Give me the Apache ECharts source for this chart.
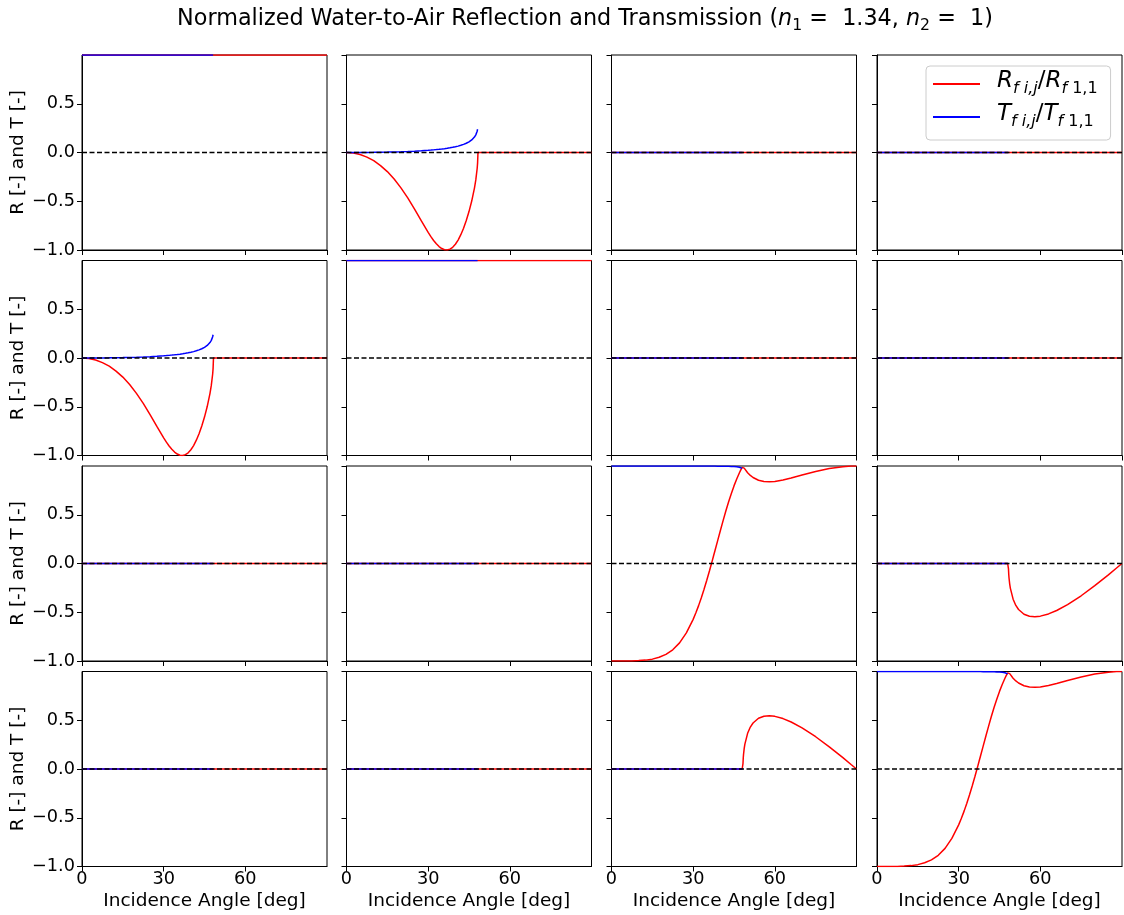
<!DOCTYPE html>
<html>
<head>
<meta charset="utf-8">
<script src="https://cdn.jsdelivr.net/npm/echarts@6/dist/echarts.min.js"></script>
<style>
  html, body { margin: 0; padding: 0; background: #ffffff; }
  #chart { width: 1124px; height: 915px; }
</style>
</head>
<body>
<div id="chart"></div>
<script>
// Incidence angles [deg] for the reflection curves (0 .. 90)
const angleR = [0, 2.5, 5, 7.5, 10, 12.5, 15, 17.5, 20, 22.5, 25, 27.5, 30, 31, 32, 33, 34, 35, 36, 36.73,
  37, 37.5, 38, 39, 40, 41, 42, 43, 44, 45, 46, 47, 47.5, 48, 48.15,
  48.3, 48.4, 48.5, 48.75, 49, 50, 51, 52, 54, 56, 58, 60, 63, 66, 70, 75, 80, 85, 88, 90];
// Transmission exists only below the critical angle
const angleT = [0, 2.5, 5, 7.5, 10, 12.5, 15, 17.5, 20, 22.5, 25, 27.5, 30, 31, 32, 33, 34, 35, 36, 36.73,
  37, 37.5, 38, 39, 40, 41, 42, 43, 44, 45, 46, 47, 47.5, 48, 48.15];

// Normalised reflection elements
const refl12 = [0, -0.005, -0.021, -0.047, -0.084, -0.134, -0.196, -0.272, -0.363, -0.466, -0.581, -0.702,
  -0.820, -0.863, -0.902, -0.936, -0.965, -0.985, -0.997, -1.000,
  -1.000, -0.997, -0.991, -0.972, -0.941, -0.898, -0.843, -0.777, -0.698, -0.606, -0.498, -0.365, -0.281,
  -0.164, -0.109,
  0, 0, 0, 0, 0, 0, 0, 0, 0, 0, 0, 0, 0, 0, 0, 0, 0, 0, 0, 0];
const refl33 = [-1.000, -1.000, -1.000, -0.999, -0.996, -0.991, -0.981, -0.962, -0.932, -0.885, -0.814, -0.712,
  -0.573, -0.506, -0.432, -0.351, -0.264, -0.171, -0.074, 0.000,
  0.027, 0.079, 0.131, 0.235, 0.339, 0.440, 0.538, 0.630, 0.716, 0.796, 0.867, 0.931, 0.960, 0.986, 0.994,
  0.998, 0.994, 0.989, 0.978, 0.967, 0.931, 0.903, 0.882, 0.854, 0.841, 0.838, 0.842, 0.856, 0.876,
  0.907, 0.944, 0.974, 0.993, 0.999, 1.000];
const refl34 = [0, 0, 0, 0, 0, 0, 0, 0, 0, 0, 0, 0, 0, 0, 0, 0, 0, 0, 0, 0,
  0, 0, 0, 0, 0, 0, 0, 0, 0, 0, 0, 0, 0, 0, 0,
  -0.056, -0.113, -0.149, -0.211, -0.255, -0.366, -0.430, -0.472, -0.520, -0.541, -0.546, -0.540,
  -0.517, -0.482, -0.422, -0.331, -0.227, -0.116, -0.046, 0];
const refl43 = [0, 0, 0, 0, 0, 0, 0, 0, 0, 0, 0, 0, 0, 0, 0, 0, 0, 0, 0, 0,
  0, 0, 0, 0, 0, 0, 0, 0, 0, 0, 0, 0, 0, 0, 0,
  0.056, 0.113, 0.149, 0.211, 0.255, 0.366, 0.430, 0.472, 0.520, 0.541, 0.546, 0.540,
  0.517, 0.482, 0.422, 0.331, 0.227, 0.116, 0.046, 0];

// Normalised transmission elements
const trans12 = [0, 0.0001, 0.0004, 0.001, 0.0018, 0.0029, 0.0043, 0.006, 0.0081, 0.0107, 0.0138, 0.0176,
  0.0223, 0.0245, 0.0269, 0.0296, 0.0325, 0.0357, 0.0393, 0.0424,
  0.0433, 0.0455, 0.0478, 0.0529, 0.0588, 0.0656, 0.0735, 0.0830, 0.0946, 0.1093, 0.1290, 0.1583, 0.1808,
  0.2181, 0.2387];
const trans33 = [1, 1, 1, 1, 1, 1, 1, 1, 1, 0.9999, 0.9999, 0.9998, 0.9998, 0.9997, 0.9996, 0.9996, 0.9995,
  0.9994, 0.9992, 0.9991,
  0.9991, 0.9990, 0.9989, 0.9986, 0.9983, 0.9979, 0.9973, 0.9966, 0.9955, 0.9940, 0.9916, 0.9874, 0.9835,
  0.9759, 0.9711];

// Constant elements (diagonal 1,1 / 2,2 and the vanishing ones)
const flatAngleR = [0, 90];
const flatAngleT = [0, 48.15];
const unitR = [1, 1];
const unitT = [1, 1];
const zeroR = [0, 0];
const zeroT = [0, 0];

// Dashed zero reference
const baseAngle = [0, 90];
const baseValue = [0, 0];

// Axis ticks
const xTicks = [0, 30, 60, 90];
const yTicks = [-1, -0.5, 0, 0.5, 1];

const curves = {
  unit: { R: [flatAngleR, unitR], T: [flatAngleT, unitT] },
  zero: { R: [flatAngleR, zeroR], T: [flatAngleT, zeroT] },
  m12:  { R: [angleR, refl12], T: [angleT, trans12] },
  m33:  { R: [angleR, refl33], T: [angleT, trans33] },
  m34:  { R: [angleR, refl34], T: [flatAngleT, zeroT] },
  m43:  { R: [angleR, refl43], T: [flatAngleT, zeroT] }
};
const matrixLayout = [
  ['unit', 'm12', 'zero', 'zero'],
  ['m12', 'unit', 'zero', 'zero'],
  ['zero', 'zero', 'm33', 'm34'],
  ['zero', 'zero', 'm43', 'm33']
];

const FONT = 'DejaVu Sans';
const colLeft = [82, 346.5, 611.5, 877];
const rowTop = [55, 260.5, 466, 671.5];
const cellW = 245, cellH = 195;

const pairs = (xs, ys) => xs.map((x, i) => [x, ys[i]]);

const grids = [], xAxes = [], yAxes = [], series = [];
for (let r = 0; r < 4; r++) {
  for (let c = 0; c < 4; c++) {
    const idx = r * 4 + c;
    grids.push({
      left: colLeft[c], top: rowTop[r], width: cellW, height: cellH,
      show: true, borderColor: '#000', borderWidth: 1, backgroundColor: 'transparent',
      containLabel: false, outerBoundsMode: 'none'
    });
    xAxes.push({
      gridIndex: idx, type: 'value', min: xTicks[0], max: xTicks[xTicks.length - 1],
      interval: xTicks[1] - xTicks[0],
      axisLine: { show: true, onZero: false, lineStyle: { color: '#000', width: 1 } },
      axisTick: { show: true, inside: false, length: 5, lineStyle: { color: '#000', width: 1 } },
      splitLine: { show: false },
      axisLabel: {
        show: r === 3, margin: 4, color: '#000', fontFamily: FONT, fontSize: 17.7,
        showMaxLabel: false,
        formatter: v => (v >= 90 ? '' : String(v))
      },
      name: r === 3 ? 'Incidence Angle [deg]' : '',
      nameLocation: 'middle', nameGap: 25,
      nameTextStyle: { color: '#000', fontFamily: FONT, fontSize: 18.5 }
    });
    yAxes.push({
      gridIndex: idx, type: 'value', min: yTicks[0], max: yTicks[yTicks.length - 1],
      interval: yTicks[1] - yTicks[0],
      axisLine: { show: true, onZero: false, lineStyle: { color: '#000', width: 1 } },
      axisTick: { show: true, inside: false, length: 5, lineStyle: { color: '#000', width: 1 } },
      splitLine: { show: false },
      axisLabel: {
        show: c === 0, margin: 7, color: '#000', fontFamily: FONT, fontSize: 17.7,
        showMaxLabel: false,
        formatter: v => (v >= 1 ? '' : (v < 0 ? '\u2212' : '') + Math.abs(v).toFixed(1))
      },
      name: c === 0 ? 'R [-] and T [-]' : '',
      nameLocation: 'middle', nameGap: 51,
      nameTextStyle: { color: '#000', fontFamily: FONT, fontSize: 18.5 }
    });
    const cv = curves[matrixLayout[r][c]];
    series.push({
      type: 'line', name: 'R', xAxisIndex: idx, yAxisIndex: idx,
      data: pairs(cv.R[0], cv.R[1]), symbol: 'none', showSymbol: false,
      lineStyle: { color: '#ff0000', width: 1.5 }, itemStyle: { color: '#ff0000' },
      z: 2, animation: false, silent: true
    });
    series.push({
      type: 'line', name: 'T', xAxisIndex: idx, yAxisIndex: idx,
      data: pairs(cv.T[0], cv.T[1]), symbol: 'none', showSymbol: false,
      lineStyle: { color: '#0000ff', width: 1.5 }, itemStyle: { color: '#0000ff' },
      z: 3, animation: false, silent: true
    });
    series.push({
      type: 'line', name: 'zero', xAxisIndex: idx, yAxisIndex: idx,
      data: pairs(baseAngle, baseValue), symbol: 'none', showSymbol: false,
      lineStyle: { color: '#000', width: 1.3, type: [5, 2.5] }, itemStyle: { color: '#000' },
      z: 4, animation: false, silent: true
    });
  }
}

const legendRich = {
  sp: { width: 12, fontSize: 23 },
  m: { fontFamily: FONT, fontSize: 23, fontStyle: 'italic', lineHeight: 28, verticalAlign: 'top', color: '#000' },
  n: { fontFamily: FONT, fontSize: 23, lineHeight: 28, verticalAlign: 'top', color: '#000' },
  si: { fontFamily: FONT, fontSize: 16, fontStyle: 'italic', lineHeight: 18, padding: [11, 0, 0, 0], verticalAlign: 'top', color: '#000' },
  su: { fontFamily: FONT, fontSize: 16, lineHeight: 18, padding: [11, 0, 0, 0], verticalAlign: 'top', color: '#000' }
};

const titleRich = {
  t: { fontFamily: FONT, fontSize: 22.3, lineHeight: 26, verticalAlign: 'top', color: '#000' },
  v: { fontFamily: FONT, fontSize: 22.3, fontStyle: 'italic', lineHeight: 26, verticalAlign: 'top', color: '#000' },
  s: { fontFamily: FONT, fontSize: 15.7, lineHeight: 18, padding: [10, 0, 0, 0], verticalAlign: 'top', color: '#000' }
};

const chart = echarts.init(document.getElementById('chart'), null, { renderer: 'canvas' });
chart.setOption({
  animation: false,
  backgroundColor: '#ffffff',
  grid: grids,
  xAxis: xAxes,
  yAxis: yAxes,
  series: series,
  legend: {
    data: ['R', 'T'],
    orient: 'vertical',
    left: 926, top: 66,
    padding: [4, 13, 10, 7],
    itemGap: 6,
    itemWidth: 47, itemHeight: 2,
    icon: 'rect',
    selectedMode: false,
    backgroundColor: 'rgba(255,255,255,0.8)',
    borderColor: '#cccccc', borderWidth: 1, borderRadius: 4,
    textStyle: { fontFamily: FONT, fontSize: 23, color: '#000', rich: legendRich },
    formatter: name => name === 'R'
      ? '{sp| }{m|R}{si|f i,j}{n|/}{m|R}{si|f }{su|1,1}'
      : '{sp| }{m|T}{si|f i,j}{n|/}{m|T}{si|f }{su|1,1}'
  },
  graphic: [{
    type: 'text', x: 585, y: 8, silent: true,
    style: {
      text: '{t|Normalized Water-to-Air Reflection and Transmission (}{v|n}{s|1}{t| =  1.34, }{v|n}{s|2}{t| =  1)}',
      rich: titleRich, align: 'center', verticalAlign: 'top',
      fontFamily: FONT, fontSize: 22.3, fill: '#000'
    }
  }]
});
</script>
</body>
</html>
